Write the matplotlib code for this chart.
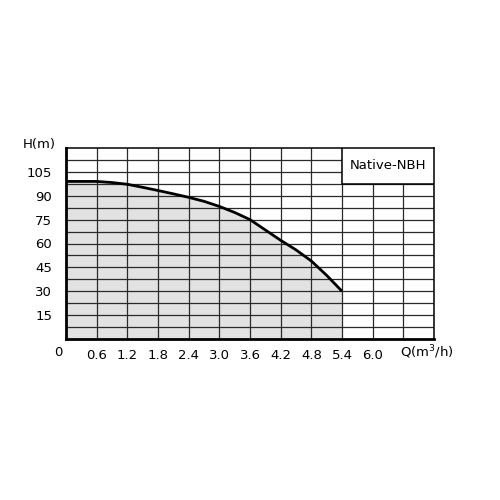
import matplotlib
matplotlib.use("Agg")
import matplotlib.pyplot as plt
import numpy as np

# pump curve
flow = [0, 0.3, 0.6, 0.9, 1.2, 1.5, 1.8, 2.1, 2.4, 2.7, 3.0, 3.3, 3.6, 3.9, 4.2, 4.5, 4.8, 5.1, 5.4]
head = [99, 99, 99, 98.3, 97.2, 95.3, 93.3, 91.2, 89, 86.5, 83.3, 79.5, 75, 68.5, 62, 56, 49, 40, 30]

x_ticks = [0.6, 1.2, 1.8, 2.4, 3.0, 3.6, 4.2, 4.8, 5.4, 6.0]
x_labels = ["0.6", "1.2", "1.8", "2.4", "3.0", "3.6", "4.2", "4.8", "5.4", "6.0"]
y_ticks = [15, 30, 45, 60, 75, 90, 105]
model_name = "Native-NBH"

fs = 9.5
fig = plt.figure(figsize=(5, 5), dpi=100)
ax = fig.add_axes([0.132, 0.322, 0.736, 0.382])

ax.set_xlim(0, 7.2)
ax.set_ylim(0, 120)

ax.fill_between(flow, head, 0, color="#e2e2e2", lw=0, zorder=1)

# grid
for gx in np.arange(0.6, 7.2, 0.6):
    ax.axvline(gx, color="#2a2a2a", lw=0.9, zorder=2)
for gy in np.arange(7.5, 120, 7.5):
    ax.axhline(gy, color="#2a2a2a", lw=0.9, zorder=2)

# name box in the top right corner
ax.fill_between([5.4, 7.2], 97.5, 120, color="white", zorder=3, lw=0)
ax.plot([5.4, 5.4, 7.2], [120, 97.5, 97.5], color="black", lw=1.1, zorder=4)
ax.text(6.3, 108.75, model_name, ha="center", va="center", fontsize=fs, zorder=5)

ax.plot(flow, head, color="black", lw=2, zorder=6, solid_capstyle="butt")

for s in ["top", "right"]:
    ax.spines[s].set_linewidth(1.1)
for s in ["left", "bottom"]:
    ax.spines[s].set_linewidth(2)
for s in ax.spines.values():
    s.set_zorder(7)

ax.set_xticks(x_ticks)
ax.set_xticklabels(x_labels, fontsize=fs)
ax.set_yticks(y_ticks)
ax.set_yticklabels([str(v) for v in y_ticks], fontsize=fs)
ax.tick_params(axis="x", length=0, pad=7)
ax.tick_params(axis="y", length=0, pad=10)

ax.text(-0.06, -8.5, "0", ha="right", va="center", fontsize=fs)
ax.text(6.54, -8.5, "Q(m$^3$/h)", ha="left", va="center", fontsize=fs)
ax.text(-0.196, 122, "H(m)", ha="right", va="center", fontsize=fs)

fig.savefig("out.png", dpi=100)
